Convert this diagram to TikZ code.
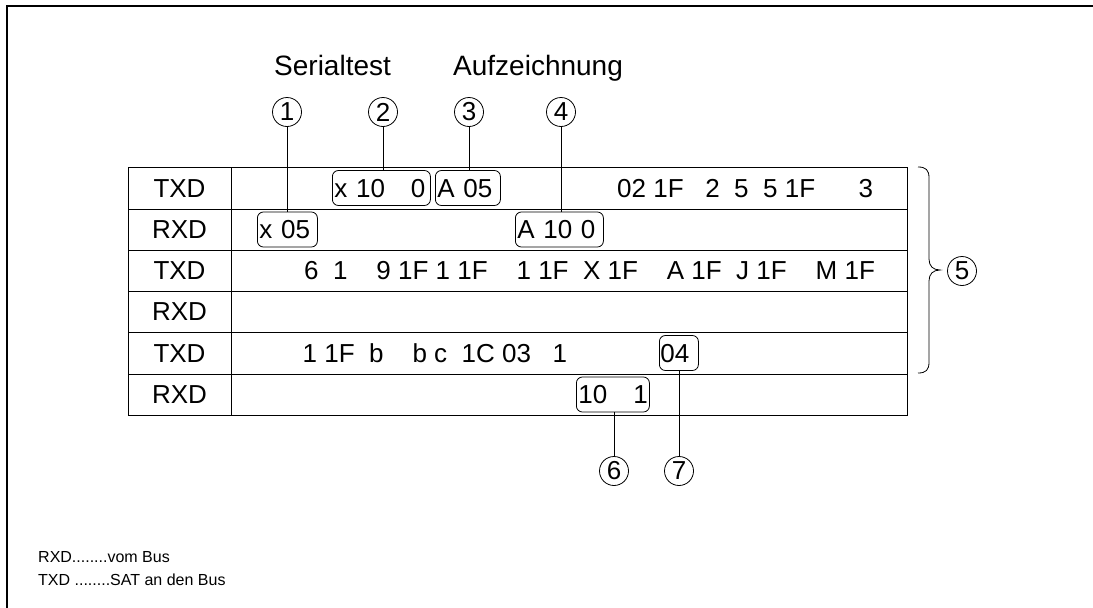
\documentclass[tikz,border=0pt]{standalone}
\usepackage{fontspec}
\setmainfont{Liberation Sans}
\begin{document}
\begin{tikzpicture}[x=1pt,y=-1pt,
  frame/.style={line width=2pt},
  grid/.style={line width=0.9pt},
  big/.style={font=\fontsize{26}{30}\selectfont},
  cell/.style={big, inner sep=0pt, text height=18.6pt, text depth=0pt},
  tok/.style={cell, anchor=west},
  hbox/.style={big, draw, line width=0.8pt, rounded corners=6pt, anchor=west,
    minimum height=35pt, inner xsep=2pt, inner ysep=0pt, align=left,
    text height=18.6pt, text depth=0pt},
  num/.style={big, draw, circle, line width=0.8pt, minimum size=29pt, inner sep=0pt},
  lead/.style={line width=0.8pt},
  head/.style={font=\fontsize{28}{32}\selectfont, inner sep=0pt, anchor=base west},
  note/.style={font=\fontsize{16}{18}\selectfont, inner sep=0pt, anchor=base west}]

\useasboundingbox (0,0) rectangle (1093,608);

% outer frame (top and left edges)
\draw[frame] (7,608) -- (7,6) -- (1093,6);

% headings
\node[head] (serial) at (274,75) {Serialtest};
\node[head] (aufz) at (453,75) {Aufzeichnung};

% table grid
\draw[grid] (128,167) rectangle (907,415);
\draw[grid] (231,167) -- (231,415);
\foreach \y in {209,250,291,332,374} \draw[grid] (128,\y) -- (907,\y);

% line labels
\foreach \y/\t [count=\i] in {188/TXD,229.5/RXD,270.5/TXD,311.5/RXD,353/TXD,394.5/RXD}
  \node[cell] (lab\i) at (179.5,\y) {\t};

% marked byte groups
\node[hbox, text width=94pt] (b2) at (332,188) {x 10~~~0};
\node[hbox, text width=61pt] (b3) at (435,188) {A 05};
\node[hbox, text width=56pt] (b1) at (257,229.5) {x 05};
\node[hbox, text width=84pt] (b4) at (515,229.5) {A 10 0};
\node[hbox, text width=37pt, inner xsep=1pt] (b7) at (659,353) {04};
\node[hbox, text width=69pt] (b6) at (576,394.5) {10~~~1};

% unmarked bytes
\node[tok] (r1) at (617,188) {02 1F~~~2~~5~~5 1F~~~~~~3};
\node[tok] (r3) at (304,270.5) {6~~1~~~~9 1F 1 1F~~~~1 1F~~X 1F~~~~A 1F~~J 1F~~~~M 1F};
\node[tok] (r5) at (302.5,353) {1 1F~~b~~~~b c~~1C 03~~~1};

% numbered callouts
\node[num] (c1) at (287,112) {1};
\node[num] (c2) at (383,112) {2};
\node[num] (c3) at (469,112) {3};
\node[num] (c4) at (561,112) {4};
\node[num] (c5) at (962,271) {5};
\node[num] (c6) at (614,471) {6};
\node[num] (c7) at (679,471) {7};

% leader lines
\draw[lead] (c1.south) -- (c1.south |- b1.north);
\draw[lead] (c2.south) -- (c2.south |- b2.north);
\draw[lead] (c3.south) -- (c3.south |- b3.north);
\draw[lead] (c4.south) -- (c4.south |- b4.north);
\draw[lead] (c6.north) -- (c6.north |- b6.south);
\draw[lead] (c7.north) -- (c7.north |- b7.south);

% brace over the first five rows
\coordinate (tip) at (940,270);
\draw[lead] (918,167) .. controls (926,167) and (929,170) .. (929,178)
  -- (929,259) .. controls (929,266) and (933,270) .. (tip)
  .. controls (933,270) and (929,274) .. (929,281)
  -- (929,362) .. controls (929,370) and (926,373) .. (918,373);

% legend
\node[note] (n1) at (38,562) {RXD........vom Bus};
\node[note] (n2) at (38,585) {TXD ........SAT an den Bus};
\end{tikzpicture}
\end{document}
